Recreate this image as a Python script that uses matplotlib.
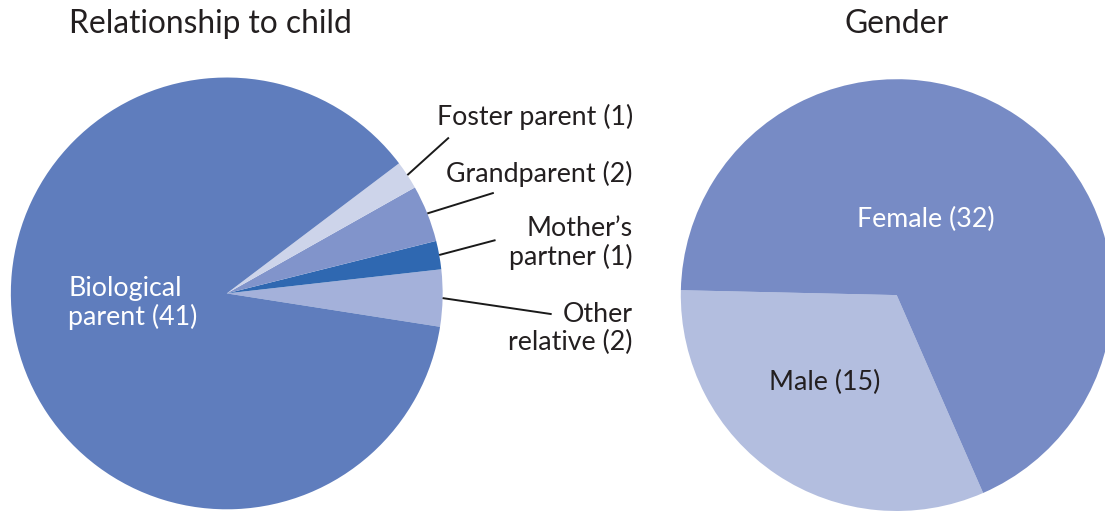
import matplotlib.pyplot as plt
import numpy as np

# data
relation_labels = ['Other\nrelative (2)', 'Mother\u2019s\npartner (1)', 'Grandparent (2)',
                   'Foster parent (1)', 'Biological\nparent (41)']
relation_counts = [2, 1, 2, 1, 41]
relation_colors = ['#a4b1da', '#2f68b1', '#8194cb', '#cdd4ea', '#5f7dbd']

gender_labels = ['Male (15)', 'Female (32)']
gender_counts = [15, 32]
gender_colors = ['#b3bedf', '#778bc5']

plt.rcParams['font.family'] = ['Lato', 'DejaVu Sans']
text_color = '#231f20'
label_size = 19.3
title_size = 22.9

fig = plt.figure(figsize=(11.05, 5.11), dpi=100)

# left pie: relationship to child
ax1 = fig.add_axes([0.0097, 0.0033, 0.391, 0.845])
wedges, _ = ax1.pie(relation_counts, colors=relation_colors, startangle=-8.9,
                    counterclock=True, radius=1, wedgeprops=dict(linewidth=0))
ax1.set_xlim(-1, 1)
ax1.set_ylim(-1, 1)
ax1.axis('off')

# outside labels for the small slices: (text x, text y, leader end x, leader end y)
outside = [(1.881, -0.161, 1.505, -0.096),
           (1.881, 0.233, 1.245, 0.247),
           (1.881, 0.552, 1.237, 0.466),
           (1.881, 0.818, 1.029, 0.722)]
for i, (tx, ty, lx, ly) in enumerate(outside):
    w = wedges[i]
    mid = np.deg2rad((w.theta1 + w.theta2) / 2)
    ax1.plot([np.cos(mid), lx], [np.sin(mid), ly], color='#1a1a1a', lw=1.4,
             clip_on=False, solid_capstyle='butt')
    ax1.text(tx, ty, relation_labels[i], ha='right', va='center', fontsize=label_size,
             color=text_color, linespacing=1.15, clip_on=False)

ax1.text(-0.733, -0.045, relation_labels[4], ha='left', va='center', fontsize=label_size,
         color='white', linespacing=1.15)

# right pie: gender
ax2 = fig.add_axes([0.616, 0.0, 0.391, 0.845])
ax2.pie(gender_counts, colors=gender_colors, startangle=178.7, counterclock=True,
        radius=1, wedgeprops=dict(linewidth=0))
ax2.set_xlim(-1, 1)
ax2.set_ylim(-1, 1)
ax2.axis('off')
ax2.text(-0.334, -0.406, gender_labels[0], ha='center', va='center', fontsize=label_size,
         color=text_color)
ax2.text(0.136, 0.352, gender_labels[1], ha='center', va='center', fontsize=label_size,
         color='white')

# titles
fig.text(210.8 / 1105, 1 - 24 / 511, 'Relationship to child', ha='center', va='center',
         fontsize=title_size, color=text_color)
fig.text(896.7 / 1105, 1 - 24 / 511, 'Gender', ha='center', va='center',
         fontsize=title_size, color=text_color)

plt.savefig('out.png', dpi=100)
plt.close()
